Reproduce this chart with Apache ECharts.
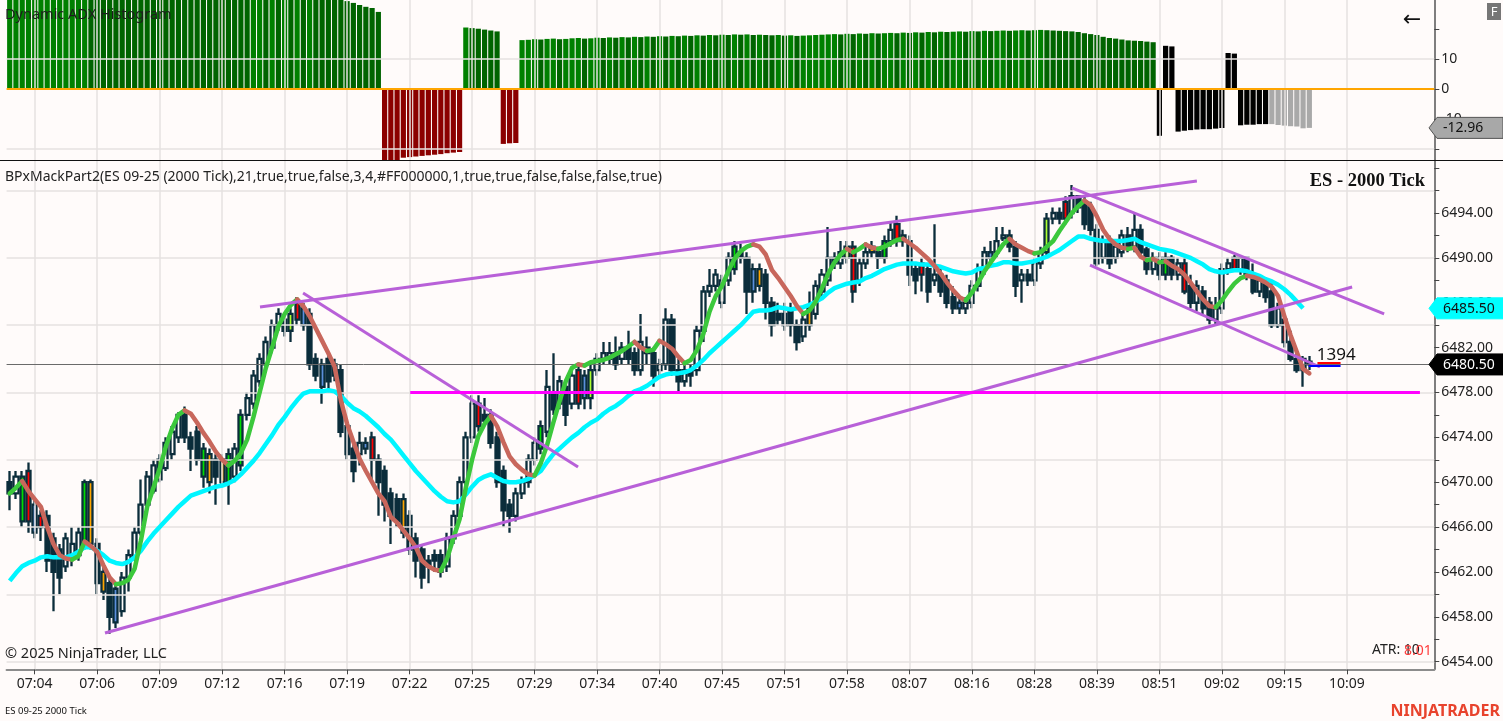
<!DOCTYPE html>
<html><head><meta charset="utf-8">
<script src="https://cdn.jsdelivr.net/npm/echarts@6/dist/echarts.min.js"></script>
<style>html,body{margin:0;padding:0;background:#fffbfa;}#c{width:1503px;height:721px;}</style>
</head><body><div id="c"></div>
<script>
// ---------- DATA ----------
// candles: [open, close, low, high], one per bar (2000-tick bars)
const candles = [
[6470,6469,6467.5,6471],[6469,6470.5,6468.5,6471],[6470.5,6466.5,6466,6471],[6471,6466.5,6465.5,6471.75],[6468,6465.5,6465,6468.5],
[6467,6466,6464.75,6467.5],[6467,6463,6462,6467.5],[6465,6462,6458.5,6465.5],[6464,6461.5,6460,6464.5],[6462.5,6465,6462,6465.5],
[6463.5,6464.5,6462.5,6466],[6463.5,6465.5,6463,6466],[6464.5,6470,6464,6470.25],[6470,6464.5,6464,6470.25],[6464.5,6461,6460,6465],
[6462,6460.25,6459.5,6462.5],[6461,6458,6456.5,6461.5],[6460.5,6457.5,6457,6461],[6458.5,6461.5,6458,6462],[6461.5,6463.5,6460.25,6464],
[6463.25,6465.5,6463,6466],[6465.5,6468,6465.25,6470.25],[6468,6470.5,6467.5,6471],[6469.25,6471.5,6469,6472],[6470.25,6472,6470,6472.5],
[6471.25,6473.5,6471,6474],[6472.5,6474.5,6472,6475],[6474,6476,6473.5,6476.25],[6476,6474,6473.5,6476.75],[6474,6473,6471,6474.5],
[6474.5,6472,6471.5,6475],[6473,6470.5,6469.5,6473.5],[6472.5,6470,6469,6473],[6472,6470.5,6468,6472.5],[6472,6470,6469.5,6472.5],
[6472.5,6470,6468,6473],[6470.5,6473,6470,6473.5],[6471.5,6476,6471,6476.5],[6476,6477.5,6475.5,6478],[6477,6479.5,6476.5,6480],
[6479,6481,6478.5,6481.5],[6480.5,6482.5,6480,6483],[6482,6484,6481.5,6484.5],[6484,6485,6483.5,6485.5],[6484.5,6483.5,6483,6485],
[6483.5,6485,6482.5,6485.5],[6486,6484.5,6484,6486.5],[6485.5,6484,6483.5,6486],[6485,6480.5,6480,6485.5],[6481,6479.5,6479,6481.5],
[6480.5,6478.5,6477,6481],[6481,6479,6478,6481.5],[6480.5,6479.5,6479,6481],[6480,6474.5,6474,6480.5],[6475,6472.5,6472,6475.5],
[6473,6471,6470,6473.5],[6472.5,6473.5,6471.5,6474.5],[6473.5,6473,6472.5,6474],[6474,6472,6470,6474.5],[6472,6470,6467,6472.5],
[6471,6468,6466.5,6471.5],[6469,6467,6464.5,6469.5],[6468.5,6466.5,6466,6469],[6468.5,6465.5,6465,6469],[6467,6464,6463.5,6467.5],
[6465,6463,6461.5,6465.5],[6464,6461.5,6460.5,6464.5],[6463,6462.5,6461,6463.5],[6463.5,6463,6462,6464],[6463.5,6462,6461.5,6464],
[6462.5,6465,6462,6465.5],[6465,6467,6464.5,6467.5],[6467,6470,6466.5,6470.5],[6470,6474,6469.5,6474.5],[6474,6477,6473.5,6477.75],
[6477,6475,6474.5,6477.75],[6476,6475.5,6475,6477.5],[6476,6473.5,6473,6476.5],[6474,6470,6469.5,6474.5],[6471,6467.5,6466,6471.5],
[6468,6467,6465.5,6468.5],[6467,6469,6466.5,6469.5],[6469,6470,6468.5,6470.5],[6470,6472,6469.5,6472.5],[6472,6473.5,6471.5,6474],
[6473,6475,6472.5,6475.5],[6474.5,6478.5,6474,6480],[6478,6476.5,6476,6481.5],[6477,6479,6476.5,6479.5],[6478.5,6476,6475,6479],
[6477,6479.5,6476.5,6480],[6480,6477,6476.5,6480.5],[6479.5,6477.5,6476.5,6480],[6477.5,6480,6476.5,6480.5],[6480,6481,6479.5,6481.5],
[6481,6481.5,6480.5,6482.5],[6481,6481.5,6480.5,6482.5],[6481.5,6480.5,6480,6483],[6481,6482,6480.5,6482.5],[6482,6481,6480.5,6483.5],
[6481.5,6480,6479.5,6482],[6480,6482.5,6479.5,6485],[6482,6481.5,6480.5,6483],[6481.5,6479.5,6478.5,6482],[6480,6480.5,6479.5,6481],
[6480.5,6484.5,6480,6485.5],[6484.5,6480,6479.5,6485],[6480,6479,6478,6481],[6479,6480,6478.5,6480.5],[6480,6479.5,6478.5,6480.5],
[6480,6483.5,6479.5,6484],[6483.5,6487,6482.5,6487.5],[6487,6487.5,6486.5,6489],[6487.5,6488.5,6487,6489],[6486,6488,6485.5,6488.5],
[6488,6490,6487.5,6490.5],[6489,6491,6488.5,6491.5],[6490.5,6490,6489.5,6491.25],[6490,6487,6485,6490.5],[6489,6487,6486,6489.5],
[6489,6487.5,6487,6489.5],[6488.5,6486,6484.5,6489],[6486,6484,6483,6486.5],[6485,6484.5,6484,6486],[6485,6484,6483.5,6486],
[6485.5,6484,6483,6486],[6484,6482.5,6481.75,6484.5],[6483,6484.5,6482.5,6485],[6484,6485.5,6483.5,6487],[6485,6487.5,6484.5,6488],
[6487,6488.5,6486.5,6489],[6488,6490,6487.5,6492.75],[6490,6489.5,6489,6490.5],[6489.5,6490.5,6489,6491.5],[6490,6491,6489.5,6491.5],
[6491,6487,6486,6491.5],[6488,6489.5,6487.5,6490],[6489.5,6490.5,6489,6491],[6491,6490.5,6490,6491.5],[6490.5,6490,6489,6491],
[6490,6491.5,6489.5,6492],[6491.5,6492.5,6491,6493.25],[6493,6491.5,6491,6493.75],[6492,6491.5,6491,6492.5],[6491.5,6488.5,6487.5,6492],
[6489,6488,6486.75,6489.5],[6489.5,6488.5,6487,6490],[6489,6487,6486,6489.5],[6488,6488.5,6487.5,6493],[6488.5,6487,6486.5,6489],
[6488,6486,6485.5,6488.5],[6486.5,6485.5,6485,6487.5],[6486,6485.5,6485,6486.5],[6485.5,6486,6485,6486.5],[6486,6487.5,6485.5,6488],
[6487.5,6489,6487,6489.5],[6489,6490.5,6488.5,6491],[6490.5,6490,6489.5,6491.5],[6490.5,6491.5,6490,6492.75],[6491.75,6492,6491.5,6492.75],
[6492,6491,6490.5,6492.5],[6491,6487.5,6486.5,6491.5],[6488,6488.5,6486,6489],[6488.5,6488,6487.5,6489],[6488,6489.5,6487.5,6490],
[6489.5,6490.5,6489,6491],[6490.5,6493.5,6490,6494],[6493.5,6494,6493,6494.5],[6494,6493.5,6493,6494.5],[6495,6493.5,6493,6495.5],
[6494,6495.5,6493.5,6496.5],[6495.5,6494.5,6494,6495.5],[6495,6493,6492.5,6495.5],[6494.5,6492.5,6492,6495],[6492.5,6489.5,6489.25,6493],
[6490,6491.5,6489.5,6492],[6491.5,6489.5,6489,6492],[6490,6491,6489.5,6491.5],[6490.5,6492,6490,6492.5],[6492,6491,6490.5,6492.75],
[6491,6492.5,6490.5,6494],[6492.5,6490.5,6490,6493],[6490.75,6489,6488.5,6491],[6489,6490,6488.5,6490.5],[6490,6488.5,6488,6490.5],
[6488.5,6490,6488,6490.5],[6490,6488.5,6488,6490.25],[6488.5,6489.5,6488,6490],[6489.5,6487,6486.75,6490],[6487.5,6486,6485.5,6488.5],
[6486,6487.5,6485.25,6488],[6487,6485.5,6485,6487.5],[6486,6484.5,6484,6486.5],[6484.5,6485.5,6484,6486.5],[6485.5,6489,6485,6489.5],
[6489,6489.5,6488.5,6490],[6490,6489,6488.75,6490.25],[6489,6490,6488.5,6490.25],[6490,6488.5,6488,6490],[6488.5,6487,6486.75,6489.5],
[6487,6488,6486.5,6488.5],[6488,6486.5,6486,6488.25],[6487,6484,6483.75,6488],[6484,6485.5,6483.75,6486],[6484.5,6482.5,6482,6485],
[6482.5,6481,6480.75,6483.5],[6481,6480,6479.75,6481.5],[6480,6481,6478.5,6481.25],[6480.75,6480.5,6480,6481.25]
];
// fast moving average (green rising / red falling)
const fastMA = [6469.0,6469.5,6470.1,6469.2,6468.5,6467.8,6466,6464.5,6463.5,6463.2,
6463.1,6463.4,6464.7,6464.3,6463.8,6462.6,6461.5,6460.9,6461.0,6461.3,
6462.3,6464.8,6467.8,6469.5,6471.2,6473.2,6474.8,6476,6476.4,6476.1,
6475.3,6474.4,6473.6,6472.7,6472,6471.5,6471.9,6472.6,6473.8,6475.8,
6478,6480.2,6482,6483.9,6485,6485.8,6486.3,6485.7,6484.8,6483.7,
6482.6,6481.5,6480.3,6477.3,6475.2,6473.6,6472.1,6471,6470.0,6469,
6468.3,6466.9,6466.4,6465.7,6465,6464.2,6463,6462.5,6462.2,6462.1,
6463.2,6465,6466.7,6469.5,6472,6474.1,6475.2,6475.9,6475,6473.6,
6472.3,6471.6,6471.1,6470.7,6470.6,6471.7,6473.3,6475.3,6477.2,6479,
6480.2,6480.5,6480.4,6480.7,6480.8,6480.9,6481.1,6481.4,6481.7,6482.1,
6482.5,6482,6481.7,6481.8,6482.6,6482.3,6481.9,6481.2,6480.6,6480.9,
6481.8,6483.2,6485.2,6486.6,6487.5,6488.8,6489.9,6490.6,6491,6491.2,
6491,6490.3,6488.9,6488.2,6487.4,6486.6,6485.7,6485,6485.3,6486.1,
6487.3,6488.6,6489.6,6490.3,6490.8,6490.5,6490.8,6491.2,6490.9,6490.8,
6491.0,6491.3,6491.6,6491.7,6491.3,6490.9,6490.4,6489.9,6489.3,6488.6,
6487.8,6487.1,6486.5,6486.2,6486.9,6487.8,6488.8,6489.6,6490.4,6491.2,
6491.7,6491.2,6490.9,6490.6,6490.4,6490.5,6491,6491.5,6492.4,6493.2,
6494,6494.6,6495.1,6494.7,6493.7,6492.5,6491.7,6491.2,6490.9,6490.8,
6490.9,6490.1,6489.8,6489.9,6489.6,6489.7,6489.3,6489,6488.5,6487.8,
6487,6486.3,6485.7,6485.6,6486.2,6487,6487.7,6488.2,6488.4,6488.3,
6488.1,6487.8,6487.4,6486.6,6484.8,6483.1,6481.6,6480.1,6479.7];
// slow moving average (cyan)
const slowMA = [6461.2,6461.9,6462.5,6462.8,6463.0,6463.3,6463.4,6463.3,6463.3,6463.3,
6463.5,6463.8,6464.2,6464.2,6463.9,6463.5,6463.0,6462.8,6462.7,6462.9,
6463.3,6463.9,6464.7,6465.4,6466,6466.6,6467.2,6467.8,6468.3,6468.8,
6469.0,6469.2,6469.4,6469.6,6469.7,6469.9,6470.2,6470.7,6471.3,6471.9,
6472.6,6473.4,6474.2,6475.1,6475.8,6476.6,6477.3,6477.9,6478.1,6478.1,
6478.1,6478.2,6478.1,6477.7,6477.1,6476.6,6476.3,6475.9,6475.4,6474.9,
6474.3,6473.8,6473.1,6472.4,6471.7,6471.0,6470.4,6469.8,6469.2,6468.7,
6468.3,6468.2,6468.3,6468.9,6469.6,6470.2,6470.5,6470.7,6470.4,6470.1,
6470.0,6470.0,6470.1,6470.3,6470.6,6471.0,6471.8,6472.5,6473.0,6473.5,
6474.0,6474.4,6474.9,6475.3,6475.6,6476.1,6476.5,6476.8,6477.2,6477.7,
6478.1,6478.3,6478.6,6479.0,6479.4,6479.6,6479.7,6479.7,6479.8,6480.0,
6480.4,6480.9,6481.5,6482.0,6482.5,6483.0,6483.5,6484.0,6484.6,6485.2,
6485.3,6485.3,6485.4,6485.6,6485.5,6485.4,6485.5,6485.6,6485.8,6486.1,
6486.4,6486.9,6487.3,6487.5,6487.7,6487.8,6487.9,6488.2,6488.4,6488.7,
6489.0,6489.2,6489.4,6489.5,6489.5,6489.5,6489.4,6489.4,6489.3,6489.2,
6489.0,6488.8,6488.7,6488.6,6488.7,6489.0,6489.1,6489.3,6489.4,6489.6,
6489.6,6489.5,6489.5,6489.6,6489.7,6489.9,6490.1,6490.4,6490.7,6491.1,
6491.5,6491.9,6491.9,6491.7,6491.6,6491.5,6491.5,6491.5,6491.5,6491.6,
6491.7,6491.4,6491.2,6491.0,6490.8,6490.7,6490.6,6490.4,6490.2,6490.0,
6489.7,6489.4,6489.0,6488.8,6488.7,6488.8,6488.9,6488.9,6488.8,6488.6,
6488.4,6488.1,6487.9,6487.6,6487.2,6486.7,6486.1,6485.5];
// Dynamic ADX histogram values
const adx = [31,31.5,32,32.6,33,33.5,34,34.4,35,35.5,36,36.5,37,
36.8,36.6,36.4,36.2,36,35.8,35.6,35.4,35.2,35,34.8,34.6,34.4,34.2,34,33.8,33.6,33.4,33.2,33,32.8,32.6,32.4,32.2,32,31.8,
32,32.4,32.2,32.7,32.5,33,32.8,33.2,33,33.3,32.6,32.2,31.6,30.8,
29.8,29.3,28.7,28.0,27.4,27.0,25.7,
-24.5,-25,-24,-22.9,-22.7,-22.5,-22.3,-22.1,-21.9,-21.7,-21.4,-21.2,-21.0,
20.5,20.3,20.1,19.8,19.5,19.2,
-18.3,-18.1,-18.0,
16.3,16.4,16.6,16.5,16.7,16.8,16.6,16.7,16.9,17.0,
16.8,16.9,17.1,17.0,17.2,17.1,17.3,17.2,17.4,17.3,
17.5,17.4,17.6,17.5,17.7,17.6,17.8,17.7,17.9,17.8,
18.0,17.9,18.1,18.0,18.2,18.1,18.2,18.0,18.1,18.0,
17.9,18.0,17.8,17.9,17.7,17.8,17.9,18.0,18.1,18.2,
18.3,18.2,18.4,18.3,18.5,18.4,18.6,18.5,18.6,18.7,
18.6,18.8,18.7,18.9,18.8,19.0,18.9,19.1,19.0,19.1,
19.2,19.1,19.3,19.2,19.4,19.3,19.4,19.5,19.4,19.5,
19.6,19.5,19.6,19.7,19.6,19.5,19.4,19.3,19.2,19.0,
18.6,18.3,18.0,17.4,17.0,16.8,16.5,16.2,16.1,16.0,15.8,15.6,
-15.6,14.4,14.2,
-14.2,-13.9,-13.7,-13.5,-13.4,-13.4,-13.2,-13.0,
12.0,11.8,
-12.1,-11.9,-11.9,-11.7,-11.7,
-11.7,-12.0,-12.2,-12.4,-12.5,-13.1,-12.96];
// time axis labels (every 10 bars)
const timeLabelIndex = [4,14,24,34,44,54,64,74,84,94,104,114,124,134,144,154,164,174,184,194,204,214];
const timeLabels = ['07:04','07:06','07:09','07:12','07:16','07:19','07:22','07:25','07:29','07:34','07:40','07:45','07:51','07:58','08:07','08:16','08:28','08:39','08:51','09:02','09:15','10:09'];
// price axis
const priceLabels = [6454,6458,6462,6466,6470,6474,6478,6482,6486,6490,6494];
const priceTicks = [6454,6456,6458,6460,6462,6464,6466,6468,6470,6472,6474,6476,6478,6480,6482,6484,6486,6488,6490,6492,6494,6496,6498];
const priceGrid = [6454,6460,6466,6472,6478,6484,6490,6496];
const adxLabels = [-10,0,10];
const adxTicks = [-20,-10,0,10,20];
const adxGrid = [10,-20];
// drawn objects (bar index, price)
const trendLines = [
  [[40.06,6485.62],[190.0,6496.85]],
  [[15.25,6456.56],[214.85,6487.40]],
  [[46.95,6486.87],[90.96,6471.36]],
  [[170.0,6496.23],[219.97,6485.0]],
  [[172.9,6489.36],[209.7,6480.27]]
];
const supportLine = [[64.1,6478],[225.7,6478]];
const lastPrice = 6480.5;
const askLine = [[209.3,6480.62],[213.0,6480.62]];
const bidLine = [[207.9,6480.36],[213.0,6480.36]];
const ticksRemaining = '1394';
const atrPeriod = 10, atrValue = '8.01';

// ---------- STYLE ----------
const BG = '#fffbfa', GRID = '#e6e2e1', CANDLE = '#0b2d3b';
const FONT = '"Noto Sans", "Open Sans", sans-serif';
const bodyPaint = {2:'#00dd00',3:'#ff0000',4:'#5b8fdc',5:'#ff0000',12:'#00dd00',13:'#ffa500',15:'#ffa500',17:'#5b8fdc',24:'#adff2f',
31:'#00dd00',32:'#ffa500',34:'#ffa500',35:'#00dd00',37:'#00dd00',45:'#adff2f',46:'#ff0000',47:'#5b8fdc',50:'#5b8fdc',57:'#5b8fdc',
58:'#ff0000',63:'#ffa500',75:'#ff0000',85:'#00dd00',91:'#ff0000',92:'#5b8fdc',93:'#adff2f',116:'#00dd00',119:'#5b8fdc',120:'#ffa500',
128:'#ffa500',134:'#adff2f',135:'#ff0000',138:'#ffa500',140:'#00dd00',142:'#ff0000',146:'#ff0000',152:'#5b8fdc',157:'#5b8fdc',
166:'#adff2f',169:'#ff0000',185:'#00dd00',188:'#ff0000',196:'#ff0000',204:'#ff0000'};
function adxColor(i){
  if (i >= 202) return '#a9a9a9';
  if (i >= 184) return '#000000';
  if ((i >= 60 && i <= 72) || (i >= 79 && i <= 81)) return '#8b0000';
  return (i > 0 && adx[i] < adx[i-1]) ? '#006400' : '#008000';
}

const chart = echarts.init(document.getElementById('c'));
const XMIN = -0.5, XMAX = 228;

const candleData = candles.map((c, i) => {
  const it = {value: [i, c[0], c[1], c[2], c[3]]};
  if (bodyPaint[i]) it.itemStyle = {color: bodyPaint[i], color0: bodyPaint[i]};
  return it;
});

// split fast MA into rising / falling runs
const runs = [];
{
  const dir = i => fastMA[i+1] >= fastMA[i] ? 1 : -1;
  let s = 0, cur = dir(0);
  for (let i = 1; i < fastMA.length - 1; i++) {
    const d = dir(i);
    if (d !== cur) { runs.push([s, i, cur]); s = i; cur = d; }
  }
  runs.push([s, fastMA.length - 1, cur]);
}
const fastSeries = runs.map(([s, e, d]) => {
  const data = [];
  for (let k = s; k <= e; k++) data.push([k, fastMA[k]]);
  return {type:'line', xAxisIndex:1, yAxisIndex:1, data, symbol:'none', silent:true, z:6,
    lineStyle:{color: d > 0 ? '#3cc83c' : '#c8675c', width:4.5, cap:'round', join:'round'}};
});

const series = [
  {type:'line', xAxisIndex:0, yAxisIndex:0, data:[[-10,-100]], symbol:'none', silent:true, z:0,
    markLine:{silent:true, symbol:'none', animation:false, label:{show:false},
      lineStyle:{color:GRID, width:1.5, type:'solid'},
      data:[...timeLabelIndex.map(v=>({xAxis:v})), ...adxGrid.map(v=>({yAxis:v}))]}},
  {type:'bar', xAxisIndex:0, yAxisIndex:0, barWidth:5.2, z:2, clip:true, silent:true,
    data: adx.map((v,i)=>({value:[i,v], itemStyle:{color:adxColor(i)}}))},
  {type:'line', xAxisIndex:0, yAxisIndex:0, data:[[-10,-100]], symbol:'none', silent:true, z:3,
    markLine:{silent:true, symbol:'none', animation:false, label:{show:false},
      lineStyle:{color:'#ffa500', width:2.2, type:'solid'}, data:[{yAxis:0}]}},
  {type:'line', xAxisIndex:1, yAxisIndex:1, data:[[-10,6000]], symbol:'none', silent:true, z:0,
    markLine:{silent:true, symbol:'none', animation:false, label:{show:false},
      lineStyle:{color:GRID, width:1.5, type:'solid'},
      data:[...timeLabelIndex.map(v=>({xAxis:v})), ...priceGrid.map(v=>({yAxis:v}))]}},
  {type:'line', xAxisIndex:1, yAxisIndex:1, data:[[-10,6000]], symbol:'none', silent:true, z:1,
    markLine:{silent:true, symbol:'none', animation:false, label:{show:false},
      lineStyle:{color:'#6a6a6a', width:1, type:'solid'}, data:[{yAxis:lastPrice}]}},
  {type:'candlestick', xAxisIndex:1, yAxisIndex:1, data:candleData, encode:{x:0, y:[1,2,3,4]},
    barWidth:4.6, z:3, silent:true,
    itemStyle:{color:BG, color0:CANDLE, borderColor:CANDLE, borderColor0:CANDLE, borderWidth:2.3}},
  {type:'line', xAxisIndex:1, yAxisIndex:1, data: slowMA.map((v,i)=>[i,v]), symbol:'none', silent:true, z:5,
    lineStyle:{color:'#00f5ff', width:4.5, join:'round'}},
  ...fastSeries,
  ...trendLines.map(t => ({type:'line', xAxisIndex:1, yAxisIndex:1, data:t, symbol:'none', silent:true, z:7,
    lineStyle:{color:'#b860d8', width:3}})),
  {type:'line', xAxisIndex:1, yAxisIndex:1, data:supportLine, symbol:'none', silent:true, z:7,
    lineStyle:{color:'#ff00ff', width:3}},
  {type:'line', xAxisIndex:1, yAxisIndex:1, data:askLine, symbol:'none', silent:true, z:8,
    lineStyle:{color:'#ff0000', width:2}},
  {type:'line', xAxisIndex:1, yAxisIndex:1, data:bidLine, symbol:'none', silent:true, z:8,
    lineStyle:{color:'#0000ff', width:2}}
];

const axisLineStyle = {color:'#555', width:1.5};
chart.setOption({
  animation:false,
  backgroundColor:BG,
  grid:[
    {left:6.58, right:68.7, top:0, height:160.5},
    {left:6.58, right:68.7, top:160.5, bottom:51.7}
  ],
  xAxis:[
    {type:'value', gridIndex:0, min:XMIN, max:XMAX, show:true, axisLine:{show:false}, axisTick:{show:false},
      axisLabel:{show:false}, splitLine:{show:false}},
    {type:'value', gridIndex:1, min:XMIN, max:XMAX, position:'bottom',
      axisLine:{show:true, onZero:false, lineStyle:{color:'#8c8c8c', width:2}},
      axisTick:{show:true, length:5, customValues:timeLabelIndex, lineStyle:{color:'#444', width:1}},
      axisLabel:{show:true, customValues:timeLabelIndex, margin:8, color:'#222', fontFamily:FONT, fontSize:14,
        formatter:v => { const k = timeLabelIndex.indexOf(Math.round(v)); return k >= 0 ? timeLabels[k] : ''; }},
      splitLine:{show:false}}
  ],
  yAxis:[
    {type:'value', gridIndex:0, min:-23.83, max:29.67, position:'right',
      axisLine:{show:true, onZero:false, lineStyle:axisLineStyle},
      axisTick:{show:true, length:5, customValues:adxTicks, lineStyle:{color:'#444'}},
      axisLabel:{show:true, customValues:adxLabels, margin:7, color:'#222', fontFamily:FONT, fontSize:14,
        formatter:v=>String(v)},
      splitLine:{show:false}},
    {type:'value', gridIndex:1, min:6453.32, max:6498.68, position:'right',
      axisLine:{show:true, onZero:false, lineStyle:axisLineStyle},
      axisTick:{show:true, length:5, customValues:priceTicks, lineStyle:{color:'#444'}},
      axisLabel:{show:true, customValues:priceLabels, margin:7, color:'#222', fontFamily:FONT, fontSize:14,
        formatter:v=>Number(v).toFixed(2)},
      splitLine:{show:false}}
  ],
  series
});

// ---------- overlay text & price tags (positioned through the chart scales) ----------
const yOf = (g, v) => chart.convertToPixel({gridIndex:g}, [0, v])[1];
const xOf = (g, i) => chart.convertToPixel({gridIndex:g}, [i, 0])[0];
function tag(y, bg, fg, txt, stroke){
  return [
    {type:'polygon', z:200, zlevel:1, shape:{points:[[1429,y],[1437,y-10.5],[1503,y-10.5],[1503,y+10.5],[1437,y+10.5]]},
      style:{fill:bg, stroke:stroke||bg, lineWidth:1}},
    {type:'text', z:201, zlevel:1, x:1443, y:y+0.5, style:{text:txt, fill:fg, font:'14px '+FONT, align:'left', verticalAlign:'middle'}}
  ];
}
const yLast = yOf(1, lastPrice);
const ySlow = yOf(1, slowMA[slowMA.length-1]);
const yAdx = yOf(0, adx[adx.length-1]);
const xTicksTxt = xOf(1, 209.2);
chart.setOption({graphic:[
  {type:'line', z:90, shape:{x1:0, y1:160.5, x2:1503, y2:160.5}, style:{stroke:'#111', lineWidth:1.2}},
  {type:'text', z:90, x:5, y:15, style:{text:'Dynamic ADX Histogram', fill:'#1e1e1e', font:'14.5px '+FONT, verticalAlign:'middle'}},
  {type:'text', z:90, x:5, y:177, style:{text:'BPxMackPart2(ES 09-25 (2000 Tick),21,true,true,false,3,4,#FF000000,1,true,true,false,false,false,true)', fill:'#222', font:'14px '+FONT, verticalAlign:'middle'}},
  {type:'text', z:90, x:1425, y:181, style:{text:'ES - 2000 Tick', fill:'#111', font:'bold 18.5px "Liberation Serif", "DejaVu Serif", serif', align:'right', verticalAlign:'middle'}},
  {type:'text', z:90, x:5, y:654, style:{text:'\u00a9 2025 NinjaTrader, LLC', fill:'#222', font:'14.5px '+FONT, verticalAlign:'middle'}},
  {type:'text', z:90, x:1372, y:650, style:{text:'ATR: ' + atrPeriod, fill:'#222', font:'14px '+FONT, verticalAlign:'middle'}},
  {type:'text', z:91, x:1404, y:651, style:{text:atrValue, fill:'#ff3b3b', font:'14px '+FONT, verticalAlign:'middle'}},
  {type:'text', z:90, x:5, y:711, style:{text:'ES 09-25 2000 Tick', fill:'#111', font:'9.5px '+FONT, verticalAlign:'middle'}},
  {type:'text', z:90, x:1500, y:711, style:{text:'NINJATRADER', fill:'#e8432d', font:'bold 16px '+FONT, align:'right', verticalAlign:'middle'}},
  {type:'text', z:90, x:1412, y:20, style:{text:'\u2190', fill:'#111', font:'22px "DejaVu Sans", sans-serif', align:'center', verticalAlign:'middle'}},
  {type:'rect', z:90, shape:{x:1487, y:3, width:14, height:17}, style:{fill:'#767676'}},
  {type:'text', z:91, x:1494, y:12, style:{text:'F', fill:'#fff', font:'13px '+FONT, align:'center', verticalAlign:'middle'}},
  {type:'text', z:95, x:xTicksTxt, y:yLast-9, style:{text:ticksRemaining, fill:'#111', font:'17px '+FONT, align:'left', verticalAlign:'middle'}},
  ...tag(yAdx, '#a8a8a8', '#111', adx[adx.length-1].toFixed(2), '#555'),
  ...tag(ySlow, '#00ffff', '#111', slowMA[slowMA.length-1].toFixed(2)),
  ...tag(yLast, '#000000', '#fff', lastPrice.toFixed(2))
]});
</script>
</body></html>
